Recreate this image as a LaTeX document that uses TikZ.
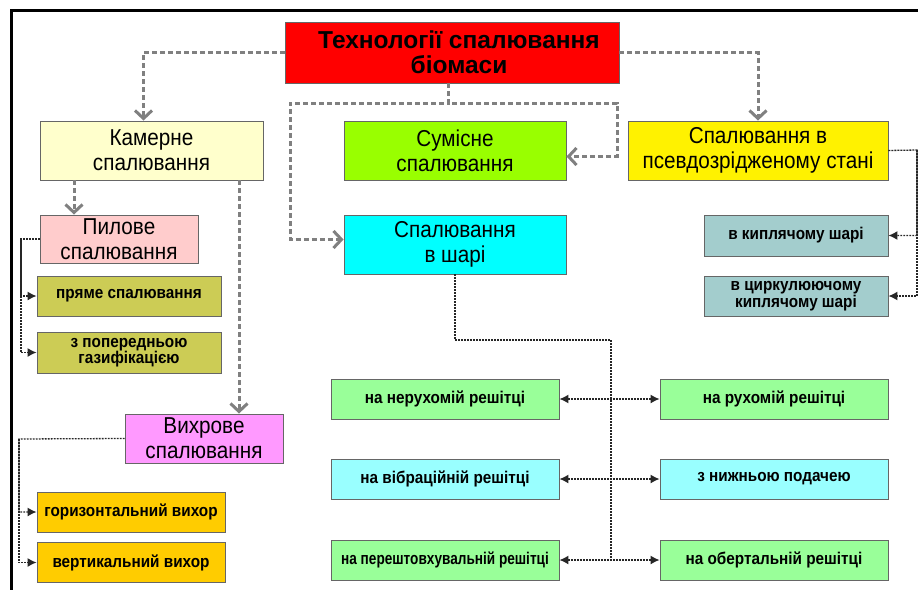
\documentclass[tikz,border=0pt]{standalone}
\usepackage{fontspec}
\setmainfont{Liberation Sans}
\newfontfamily\narrowfont[FakeStretch=0.9]{Liberation Sans}
\newfontfamily\narrowerfont[FakeStretch=0.8]{Liberation Sans}
\usetikzlibrary{arrows.meta}
\definecolor{kamcol}{HTML}{FFFFCC}
\definecolor{sumcol}{HTML}{99FF00}
\definecolor{sharcol}{HTML}{00FFFF}
\definecolor{pylcol}{HTML}{FFCCCC}
\definecolor{olivecol}{HTML}{CCCC55}
\definecolor{vykhcol}{HTML}{FF99FF}
\definecolor{vortcol}{HTML}{FFCC00}
\definecolor{tealcol}{HTML}{A3CDCD}
\definecolor{grcol}{HTML}{99FF99}
\definecolor{cycol}{HTML}{99FFFF}
\definecolor{linegray}{HTML}{808080}
\tikzset{
  box/.style   = {draw=black!60, line width=0.9pt, align=center, inner sep=1pt},
  head/.style  = {box, fill=red, font=\bfseries\fontsize{24.5}{25}\selectfont},
  kind/.style  = {box, font=\narrowfont\fontsize{23}{25}\selectfont},
  leaf/.style  = {box, font=\narrowfont\bfseries\fontsize{17}{16.5}\selectfont},
  main/.style  = {draw=linegray, line width=3pt, dash pattern=on 5pt off 3pt,
                  -{Straight Barb[length=8pt,width=17pt]}},
  link/.style  = {draw=black!85, line width=1.3pt, dash pattern=on 1.8pt off 1.2pt},
  sub/.style   = {link, -{Latex[length=9pt,width=9pt]}},
  both/.style  = {link, {Latex[length=9pt,width=9pt]}-{Latex[length=9pt,width=9pt]}}
}
\begin{document}
\begin{tikzpicture}[x=1pt,y=-1pt]
  \useasboundingbox (0,0) rectangle (918,589);
  \begin{scope}
    \clip (0,0) rectangle (918,589);
    \draw[line width=3pt] (11,10) rectangle (940,620);
  \end{scope}
  % top level
  \node[head, minimum width=334pt, minimum height=61pt] (tech) at (452,52.5) {\hspace*{14pt}Технології спалювання\\\hspace*{14pt}біомаси};
  % second level
  \node[kind, fill=kamcol, minimum width=223pt, minimum height=59pt] (kam) at (151.5,150.5) {Камерне\\спалювання};
  \node[kind, fill=sumcol, minimum width=222pt, minimum height=59pt] (sum) at (455,150.5) {Сумісне\\спалювання};
  \node[kind, fill=yellow, minimum width=260pt, minimum height=59pt] (pseudo) at (758,150.5) {Спалювання в\\псевдозрідженому стані};
  \node[kind, fill=pylcol, minimum width=158pt, minimum height=48pt] (pyl) at (119,239) {Пилове\\спалювання};
  \node[kind, fill=sharcol, minimum width=222pt, minimum height=59pt] (shar) at (455,244.5) {Спалювання\\в шарі};
  \node[kind, fill=vykhcol, minimum width=158pt, minimum height=49pt] (vykh) at (204,438.5) {Вихрове\\спалювання};
  % leaves
  \node[leaf, fill=olivecol, minimum width=184pt, minimum height=40pt] (pryame) at (129,296) {пряме спалювання};
  \node[leaf, fill=olivecol, minimum width=184pt, minimum height=41pt] (gaz) at (129,352.5) {з попередньою\\газифікацією};
  \node[leaf, fill=vortcol, minimum width=188pt, minimum height=40pt] (hor) at (131,512) {горизонтальний вихор};
  \node[leaf, fill=vortcol, minimum width=188pt, minimum height=40pt] (vert) at (131,562.5) {вертикальний вихор};
  \node[leaf, fill=tealcol, minimum width=184pt, minimum height=41pt] (kypl) at (796,235.5) {в киплячому шарі};
  \node[leaf, fill=tealcol, minimum width=184pt, minimum height=40pt] (cyrk) at (796,296) {в циркулюючому\\киплячому шарі};
  \node[leaf, fill=grcol, minimum width=228pt, minimum height=40pt] (nerukh) at (445,399) {на нерухомій решітці};
  \node[leaf, fill=grcol, minimum width=228pt, minimum height=40pt] (rukh) at (774,399) {на рухомій решітці};
  \node[leaf, fill=cycol, minimum width=228pt, minimum height=40pt] (vibr) at (445,479) {на вібраційній решітці};
  \node[leaf, fill=cycol, minimum width=228pt, minimum height=40pt] (nyzh) at (774,479) {з нижньою подачею};
  \node[leaf, fill=grcol, minimum width=228pt, minimum height=40pt,
        font=\narrowerfont\bfseries\fontsize{17}{16.5}\selectfont] (pere) at (445,560) {на перештовхувальній решітці};
  \node[leaf, fill=grcol, minimum width=228pt, minimum height=40pt] (obert) at (774,560) {на обертальній решітці};
  % bends
  \coordinate (tl) at (290,103);
  \coordinate (tr) at (617,103);
  \coordinate (kx) at (74,0);
  \coordinate (vx) at (239,0);
  \coordinate (pl) at (21,239);
  \coordinate (vl) at (19,439);
  \coordinate (pr) at (917,150);
  \coordinate (sv) at (611,340);
  % gray links
  \draw[main] (tech.west) -| ([xshift=-8pt]kam.north);
  \draw[main] (tech.east) -| (pseudo.north);
  \draw[main] ([xshift=-4pt]tech.south) |- (tl) |- ([yshift=5pt]shar.west);
  \draw[main] ([xshift=-4pt]tech.south) |- (tr) |- ([yshift=-6pt]sum.east);
  \draw[main] (kam.south -| kx) -- (pyl.north -| kx);
  \draw[main] (kam.south -| vx) -- (vykh.north -| vx);
  % dotted links
  \draw[sub] (pyl.west) -- (pl) |- (pryame.west);
  \draw[sub] (pl) |- (gaz.west);
  \draw[sub] (vykh.west) -- (vl) |- (hor.west);
  \draw[sub] (vl) |- (vert.west);
  \draw[sub] (pseudo.east) -- (pr) |- (kypl.east);
  \draw[sub] (pr) |- (cyrk.east);
  \draw[link] (shar.south) |- (sv) -- (sv |- pere.east);
  \draw[both] (nerukh.east) -- (rukh.west);
  \draw[both] (vibr.east) -- (nyzh.west);
  \draw[both] (pere.east) -- (obert.west);
\end{tikzpicture}
\end{document}
